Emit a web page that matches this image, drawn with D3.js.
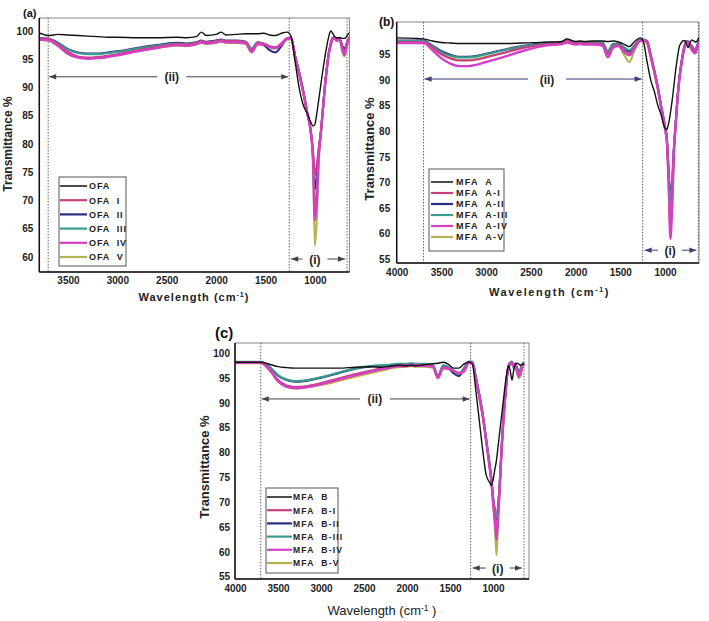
<!DOCTYPE html>
<html><head><meta charset="utf-8">
<script src="https://cdn.jsdelivr.net/npm/d3@7"></script>
<style>
body{margin:0;background:#fff}
svg{display:block}
text{font-family:"Liberation Sans",Arial,sans-serif}
</style>
</head><body>
<svg id="chart" width="709" height="621"></svg>
<script>
// ---------------- DATA ----------------
const wavenumbers = [4000,3800,3700,3600,3500,3400,3300,3200,3100,3000,
 2800,2600,2400,2300,2200,2150,2100,2000,1950,1900,
 1800,1700,1640,1580,1520,1460,1400,1340,1280,1240,
 1200,1160,1120,1080,1040,1020,1000,980,960,940,
 920,900,880,860,840,820,800,780,760,740,
 720,700,680,660,640,620];

const namesA = ["OFA","OFA  I","OFA  II","OFA  III","OFA  IV","OFA  V"];
const namesB = ["MFA  A","MFA  A-I","MFA  A-II","MFA  A-III","MFA  A-IV","MFA  A-V"];
const namesC = ["MFA  B","MFA  B-I","MFA  B-II","MFA  B-III","MFA  B-IV","MFA  B-V"];

const seriesColors = ["#111111","#c8407f","#2b2f7d","#3a9a8f","#d43fc4","#b5b050"];

const xTicksA = [3500,3000,2500,2000,1500,1000];
const xTicksBC = [4000,3500,3000,2500,2000,1500,1000];
const yTicksA = [60,65,70,75,80,85,90,95,100];
const yTicksB = [55,60,65,70,75,80,85,90,95];
const yTicksC = [55,60,65,70,75,80,85,90,95,100];

// Panel (a) OFA
const ofa0 = [99.6,99.6,99.2,99.4,99.3,99.2,99.1,99.0,98.9,98.9,
 98.8,98.8,98.9,98.8,99.0,99.8,99.2,99.4,99.8,99.3,
 99.4,99.5,99.5,99.5,99.6,99.3,99.2,99.6,99.8,99.0,
 94.5,90.0,87.0,85.5,83.8,83.2,83.5,85.5,88.0,90.5,
 93.0,95.3,97.3,99.0,100.0,99.6,99.0,98.8,98.8,98.8,
 98.7,98.7,99.0,99.5,99.8,99.8];
const ofa1 = [98.7,98.7,98.6,97.6,96.3,95.5,95.3,95.4,95.6,95.9,
 96.6,97.2,97.7,97.6,97.9,98.2,98.0,98.2,98.4,98.2,
 98.2,98.0,96.6,97.9,97.8,97.3,97.1,97.8,98.7,98.7,
 95.5,92.7,89.5,85.8,82.0,79.0,74.5,76.5,79.5,82.0,
 86.0,90.0,93.3,96.0,97.7,98.8,98.8,98.5,98.7,98.3,
 97.0,96.3,97.5,98.6,99.0,99.0];
const ofa2 = [98.7,98.7,98.6,97.9,96.8,96.2,96.0,96.0,96.2,96.4,
 97.0,97.5,97.9,97.8,98.0,98.3,98.1,98.3,98.5,98.3,
 98.3,98.1,96.8,98.0,97.6,96.6,96.2,97.3,98.7,98.7,
 95.5,92.7,89.5,85.8,82.0,78.5,72.0,74.5,79.0,82.0,
 86.0,90.0,93.3,96.0,97.7,98.8,98.8,98.3,98.7,98.3,
 97.3,96.8,97.7,98.6,99.0,99.0];
const ofa3 = [98.7,98.7,98.6,97.8,96.7,96.1,95.9,95.9,96.1,96.3,
 96.9,97.4,97.8,97.7,97.9,98.2,98.0,98.2,98.4,98.2,
 98.2,98.0,96.9,97.9,97.8,97.3,97.0,97.6,98.7,98.7,
 95.5,92.7,89.5,85.8,82.0,78.0,68.5,72.0,78.5,82.0,
 86.0,90.0,93.3,96.0,97.7,98.8,98.8,98.3,98.7,98.3,
 96.8,96.0,97.5,98.6,99.0,99.0];
const ofa4 = [98.5,98.5,98.4,97.4,96.0,95.3,95.1,95.2,95.4,95.7,
 96.4,97.0,97.5,97.4,97.7,98.0,97.8,98.0,98.2,98.0,
 98.0,97.8,96.3,97.7,97.6,97.2,97.0,97.6,98.6,98.6,
 95.3,92.4,89.2,85.6,81.8,77.5,66.5,70.0,78.0,82.0,
 86.0,90.0,93.3,96.0,97.5,98.6,98.6,98.3,98.5,98.0,
 96.5,95.8,97.2,98.4,98.8,98.8];
const ofa5 = [98.4,98.4,98.3,97.3,95.9,95.3,95.2,95.3,95.5,95.8,
 96.4,97.0,97.4,97.3,97.6,97.9,97.7,97.9,98.1,97.9,
 97.9,97.7,96.2,97.6,97.5,97.1,96.9,97.5,98.5,98.5,
 95.3,92.4,89.2,85.6,81.8,77.0,62.0,67.0,77.5,82.0,
 86.0,90.0,93.3,96.0,97.5,98.6,98.6,98.3,98.5,97.9,
 96.2,95.5,97.0,98.3,98.8,98.8];

// Panel (b) MFA A
const mfaA0 = [98.2,98.1,98.0,97.6,97.3,97.2,97.1,97.1,97.1,97.1,
 97.1,97.2,97.3,97.4,97.4,97.5,98.0,97.5,97.6,97.5,
 97.6,97.6,97.5,97.6,97.4,97.0,96.5,97.5,98.2,97.3,
 93.5,90.0,87.8,85.0,83.0,81.5,80.6,80.3,81.5,83.5,
 86.0,89.0,92.0,94.5,96.5,97.2,97.6,97.7,97.0,96.3,
 97.3,97.8,97.6,97.4,97.6,98.3];
const mfaA1 = [97.4,97.4,97.4,96.3,95.0,94.2,93.8,93.8,94.0,94.4,
 95.3,96.2,96.8,97.0,97.0,97.2,97.6,97.1,97.2,97.1,
 97.1,96.9,95.0,96.5,96.8,95.8,95.0,96.5,97.7,97.8,
 97.5,94.8,91.8,88.5,84.5,82.8,80.8,78.5,71.0,61.0,
 67.0,76.5,81.5,86.5,90.2,92.8,95.0,96.6,97.5,97.4,
 96.9,96.3,95.8,95.5,96.5,97.3];
const mfaA2 = [97.7,97.7,97.7,96.7,95.6,94.9,94.5,94.5,94.7,95.1,
 95.9,96.6,97.1,97.2,97.3,97.4,97.8,97.3,97.4,97.3,
 97.4,97.3,95.6,97.0,97.1,96.3,95.5,96.7,97.9,97.9,
 97.6,94.9,91.9,88.6,84.6,82.9,80.9,78.8,72.5,67.0,
 70.5,77.0,81.8,86.7,90.4,93.0,95.2,96.8,97.6,97.5,
 97.0,96.6,96.0,95.8,96.8,97.5];
const mfaA3 = [97.6,97.6,97.6,96.6,95.4,94.7,94.4,94.4,94.6,95.0,
 95.8,96.5,97.0,97.2,97.2,97.3,97.7,97.2,97.3,97.2,
 97.3,97.2,95.5,96.9,97.0,96.4,95.8,96.8,97.8,97.8,
 97.5,94.8,91.8,88.5,84.5,82.8,80.8,78.6,72.0,66.0,
 70.0,76.8,81.6,86.6,90.3,92.9,95.1,96.7,97.6,97.5,
 96.9,96.4,95.9,95.7,96.7,97.4];
const mfaA4 = [97.2,97.2,97.2,95.8,94.2,93.2,92.7,92.7,93.0,93.5,
 94.5,95.6,96.5,96.8,96.9,97.0,97.3,96.9,97.0,96.9,
 96.9,96.7,94.4,96.3,96.6,95.5,94.8,96.2,97.6,97.7,
 97.3,94.6,91.6,88.3,84.3,82.5,80.5,78.2,70.0,59.0,
 65.5,76.0,81.2,86.3,90.0,92.6,94.8,96.4,97.3,97.2,
 96.5,95.8,95.4,95.2,96.2,97.0];
const mfaA5 = [97.5,97.5,97.5,96.4,95.1,94.3,93.9,93.9,94.1,94.5,
 95.3,96.3,96.9,97.1,97.1,97.2,97.5,97.1,97.2,97.1,
 97.1,96.9,95.3,96.6,96.8,95.0,93.5,95.8,97.6,97.7,
 97.0,94.3,91.3,88.0,84.0,82.2,80.2,77.8,70.5,60.0,
 66.0,76.2,81.3,86.4,90.1,92.7,94.9,96.5,97.4,97.3,
 96.7,96.1,95.6,95.4,96.4,97.2];

// Panel (c) MFA B
const mfaB0 = [98.2,98.2,98.2,97.8,97.3,97.1,97.0,97.0,97.0,97.0,
 97.0,97.2,97.3,97.2,97.4,97.5,97.6,97.5,97.6,97.5,
 97.7,97.9,98.0,98.2,97.8,97.0,97.0,97.8,98.3,97.8,
 92.5,86.5,80.5,75.5,74.0,73.4,74.5,76.5,78.5,81.5,
 84.5,87.5,90.5,93.5,96.0,97.5,96.5,94.6,96.5,97.8,
 98.0,97.8,97.6,97.8,97.8,null];
const mfaB1 = [98.2,98.2,98.2,96.8,94.6,93.5,93.2,93.3,93.6,94.0,
 94.9,95.8,96.6,97.0,97.3,97.5,97.6,97.6,97.7,97.6,
 97.6,97.4,95.2,97.2,97.0,96.5,96.0,96.5,98.2,98.2,
 95.0,91.5,87.5,82.5,77.3,74.5,70.5,67.0,64.0,68.0,
 74.0,81.0,86.5,91.0,95.0,97.3,98.0,98.2,97.6,97.8,
 96.5,95.6,96.2,97.5,98.0,null];
const mfaB2 = [98.2,98.2,98.2,97.2,95.5,94.6,94.3,94.4,94.7,95.1,
 96.0,96.9,97.4,97.5,97.6,97.7,97.8,97.8,97.9,97.8,
 97.8,97.6,95.3,97.5,97.1,96.0,95.4,96.8,98.3,98.3,
 95.2,91.7,87.7,82.7,77.5,74.8,71.0,68.5,66.5,69.5,
 74.5,81.3,86.8,91.2,95.2,97.5,98.1,98.3,97.4,97.9,
 97.0,96.4,96.7,97.7,98.1,null];
const mfaB3 = [98.3,98.3,98.3,97.3,95.6,94.7,94.4,94.5,94.8,95.2,
 96.1,97.0,97.5,97.6,97.7,97.8,97.9,97.9,98.0,97.9,
 97.9,97.7,95.4,97.6,97.3,96.4,95.8,97.0,98.3,98.3,
 95.2,91.7,87.7,82.7,77.5,74.8,71.0,68.5,66.8,69.5,
 74.5,81.3,86.8,91.2,95.2,97.5,98.1,98.3,97.0,98.0,
 96.8,96.5,96.9,97.8,98.2,null];
const mfaB4 = [98.1,98.1,98.1,96.7,94.4,93.3,93.0,93.1,93.4,93.8,
 94.7,95.6,96.4,96.8,97.1,97.3,97.4,97.5,97.6,97.5,
 97.5,97.3,95.0,97.1,96.9,96.5,96.0,96.3,98.1,98.1,
 94.8,91.3,87.3,82.3,77.1,74.3,70.2,66.5,62.5,67.5,
 73.8,80.8,86.3,90.8,94.8,97.1,97.8,98.0,97.4,97.6,
 96.2,95.3,95.9,97.3,97.9,null];
const mfaB5 = [98.0,98.0,98.0,96.6,94.3,93.2,92.9,93.0,93.3,93.6,
 94.4,95.3,96.1,96.5,96.9,97.1,97.2,97.3,97.4,97.3,
 97.3,97.1,95.1,96.9,96.8,96.4,96.1,96.4,98.0,98.0,
 94.8,91.3,87.3,82.3,77.0,74.0,69.8,65.5,59.3,66.5,
 73.5,80.6,86.2,90.7,94.7,97.0,97.7,97.9,97.3,97.5,
 95.9,95.0,95.7,97.2,97.8,null];

// ---------------- LAYOUT ----------------
const panels = [
 { tag:"(a)", names:namesA, series:[ofa0,ofa1,ofa2,ofa3,ofa4,ofa5],
   l:39.3, t:18, r:349.3, b:272, xDom:[3790,652], yDom:[57.35,102.3],
   xTicks:xTicksA, yTicks:yTicksA,
   tagPos:[23,17,11], yTitle:[8,144,12], xTitle:[194,301,11,"bold",1],
   dotted:[3700,1260,675], ii:{y:91.9, c:2449, gap:14.5}, i:{y:59.65, c:1000, gap:12.5},
   leg:{x:59, y:177, w:67, h:89, y0:186, dy:14.2, l1:60, l2:87, tx:89, fs:9, ls:0.9},
   arrowColor:"#444", xpad:4.5, ypad:6 },
 { tag:"(b)", names:namesB, series:[mfaA0,mfaA1,mfaA2,mfaA3,mfaA4,mfaA5],
   l:396.7, t:22, r:699, b:263, xDom:[4000,620], yDom:[54.3,101.3],
   xTicks:xTicksBC, yTicks:yTicksB,
   tagPos:[379,26,12], yTitle:[370,149,13], xTitle:[549.5,296,11,"bold",1.6],
   dotted:[3700,1250,627], ii:{y:90.18, c:2319, gap:19}, i:{y:56.8, c:943, gap:12},
   leg:{x:429, y:169, w:75, h:82, y0:182, dy:11, l1:431, l2:453, tx:456, fs:9, ls:1.2},
   arrowColor:"#3b3d7a", xpad:5.5, ypad:6.5 },
 { tag:"(c)", names:namesC, series:[mfaB0,mfaB1,mfaB2,mfaB3,mfaB4,mfaB5],
   l:235, t:343, r:529, b:579, xDom:[4000,582], yDom:[54.54,102.07],
   xTicks:xTicksBC, yTicks:yTicksC,
   tagPos:[215,338,15], yTitle:[205,467,13], xTitle:[382,615,13,"normal",0],
   dotted:[3700,1260,640], ii:{y:90.8, c:2374, gap:15}, i:{y:56.75, c:945, gap:12},
   leg:{x:266, y:488, w:72, h:85, y0:497, dy:13.2, l1:267, l2:292, tx:293, fs:8.5, ls:1.2},
   arrowColor:"#444", xpad:5.5, ypad:5 }
];

const svg = d3.select("#chart");
const drawOrder = [5,2,3,1,4,0];

panels.forEach((p, pi) => {
  const x = d3.scaleLinear().domain(p.xDom).range([p.l, p.r]);
  const y = d3.scaleLinear().domain(p.yDom).range([p.b, p.t]);
  const g = svg.append("g");

  const clipId = "clip" + pi;
  svg.append("clipPath").attr("id", clipId).append("rect")
    .attr("x", p.l).attr("y", p.t).attr("width", p.r - p.l).attr("height", p.b - p.t);

  g.append("rect").attr("x", p.l).attr("y", p.t).attr("width", p.r - p.l).attr("height", p.b - p.t)
    .attr("fill", "none").attr("stroke", "#666").attr("stroke-width", 0.8);

  p.dotted.forEach(w => {
    g.append("line").attr("x1", x(w)).attr("x2", x(w)).attr("y1", p.t).attr("y2", p.b)
      .attr("stroke", "#555").attr("stroke-width", 0.9).attr("stroke-dasharray", "1.5,1.5");
  });

  const line = d3.line()
    .defined(d => d[1] !== null)
    .x(d => x(d[0])).y(d => y(d[1]))
    .curve(d3.curveMonotoneX);
  const lg = g.append("g").attr("clip-path", `url(#${clipId})`);
  drawOrder.forEach(si => {
    const pts = wavenumbers.map((w, k) => [w, p.series[si][k]]);
    lg.append("path").attr("d", line(pts)).attr("fill", "none")
      .attr("stroke", seriesColors[si])
      .attr("stroke-width", si === 0 ? 1.4 : (si === 4 ? 2.4 : 2.1))
      .attr("stroke-linejoin", "round");
  });

  g.append("line").attr("x1", p.l).attr("x2", p.l).attr("y1", p.t).attr("y2", p.b).attr("stroke", "#111").attr("stroke-width", 1.5);
  g.append("line").attr("x1", p.l).attr("x2", p.r).attr("y1", p.b).attr("y2", p.b).attr("stroke", "#111").attr("stroke-width", 1.5);

  const xa = g.append("g").attr("transform", `translate(0,${p.b})`)
    .call(d3.axisBottom(x).tickValues(p.xTicks).tickSize(0).tickPadding(p.xpad).tickFormat(d3.format("d")));
  const ya = g.append("g").attr("transform", `translate(${p.l},0)`)
    .call(d3.axisLeft(y).tickValues(p.yTicks).tickSize(0).tickPadding(p.ypad).tickFormat(d3.format("d")));
  [xa, ya].forEach(a => {
    a.select(".domain").remove();
    a.selectAll("text").attr("font-family", '"Liberation Sans",Arial,sans-serif')
      .attr("font-size", 10).attr("font-weight", "bold").attr("fill", "#222");
  });

  const ac = p.arrowColor;
  function arrow(xFrom, xTo, yy) {
    g.append("line").attr("x1", xFrom).attr("x2", xTo).attr("y1", yy).attr("y2", yy)
      .attr("stroke", ac).attr("stroke-width", 1);
    const dir = xTo > xFrom ? 1 : -1;
    g.append("path").attr("d", `M${xTo},${yy} L${xTo - dir * 7},${yy - 2.8} L${xTo - dir * 7},${yy + 2.8} Z`).attr("fill", ac);
  }
  const iiY = y(p.ii.y), iiC = x(p.ii.c);
  arrow(iiC - p.ii.gap, x(p.dotted[0]) + 1, iiY);
  arrow(iiC + p.ii.gap, x(p.dotted[1]) - 1, iiY);
  g.append("text").attr("x", iiC).attr("y", iiY + 4.5).attr("text-anchor", "middle")
    .attr("font-size", 12).attr("font-weight", "bold").attr("fill", "#222").text("(ii)");
  const iY = y(p.i.y), iC = x(p.i.c);
  arrow(iC - p.i.gap, x(p.dotted[1]) + 2, iY);
  arrow(iC + p.i.gap, x(p.dotted[2]) - 2, iY);
  g.append("text").attr("x", iC).attr("y", iY + 4.5).attr("text-anchor", "middle")
    .attr("font-size", 12).attr("font-weight", "bold").attr("fill", "#222").text("(i)");

  const L = p.leg;
  g.append("rect").attr("x", L.x).attr("y", L.y).attr("width", L.w).attr("height", L.h)
    .attr("fill", "#fff").attr("stroke", "#555").attr("stroke-width", 1);
  p.names.forEach((nm, k) => {
    const yy = L.y0 + k * L.dy;
    g.append("line").attr("x1", L.l1).attr("x2", L.l2).attr("y1", yy).attr("y2", yy)
      .attr("stroke", seriesColors[k]).attr("stroke-width", k === 0 ? 1.5 : 2.2);
    g.append("text").attr("x", L.tx).attr("y", yy + 3.3).attr("font-size", L.fs)
      .attr("font-weight", "bold").attr("letter-spacing", L.ls).attr("fill", "#222")
      .style("white-space", "pre").text(nm);
  });

  g.append("text").attr("x", p.tagPos[0]).attr("y", p.tagPos[1]).attr("font-size", p.tagPos[2])
    .attr("font-weight", "bold").attr("fill", "#111").text(p.tag);

  g.append("text").attr("transform", `translate(${p.yTitle[0] + 4},${p.yTitle[1]}) rotate(-90)`)
    .attr("text-anchor", "middle").attr("font-size", p.yTitle[2]).attr("font-weight", "bold")
    .attr("fill", "#222").text("Transmittance %");

  const xt = g.append("text").attr("x", p.xTitle[0]).attr("y", p.xTitle[1]).attr("text-anchor", "middle")
    .attr("font-size", p.xTitle[2]).attr("font-weight", p.xTitle[3]).attr("letter-spacing", p.xTitle[4])
    .attr("fill", "#222");
  xt.append("tspan").text("Wavelength (cm");
  xt.append("tspan").attr("dy", -4).attr("font-size", p.xTitle[2] * 0.65).text("-1");
  xt.append("tspan").attr("dy", 4).text(pi === 2 ? " )" : ")");
});
</script>
</body></html>
